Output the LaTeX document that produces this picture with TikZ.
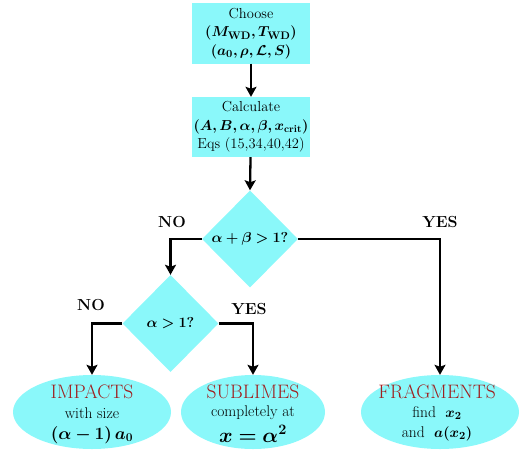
\documentclass[tikz,border=0pt]{standalone}
\usepackage{amsmath}
\usepackage{bm}
\usepackage{fontspec}
\usetikzlibrary{shapes.geometric,arrows.meta}
\definecolor{boxcyan}{RGB}{138,248,250}
\definecolor{darkred}{RGB}{160,30,30}
\begin{document}
\begin{tikzpicture}[x=1pt,y=-1pt,
  procbox/.style={fill=boxcyan,draw=none,minimum width=118pt,minimum height=60pt,inner sep=0pt,align=center,font=\fontsize{14.5}{18.5}\selectfont},
  decide/.style={diamond,fill=boxcyan,draw=none,minimum width=96pt,minimum height=97pt,inner sep=0pt},
  dtext/.style={inner sep=0pt,font=\fontsize{15.5}{17}\selectfont},
  outcome/.style={ellipse,fill=boxcyan,draw=none,minimum width=158pt,minimum height=74pt,inner sep=0pt},
  otitle/.style={inner sep=0pt,text=darkred,font=\fontsize{19.5}{21}\selectfont},
  oline/.style={inner sep=0pt,font=\fontsize{15.5}{17}\selectfont},
  omath/.style={inner sep=0pt,font=\fontsize{18}{20}\selectfont},
  conn/.style={line width=2.3pt,-{Stealth[length=10pt,width=11pt,inset=2pt]}},
  lbl/.style={font=\fontsize{16}{18}\selectfont\bfseries}
]
\useasboundingbox (0,0) rectangle (524,452);
\node[procbox] (choose) at (251,33.5) {Choose\\ {\fontsize{15}{18.5}\selectfont$\bm{(M_{\mathbf{WD}},T_{\mathbf{WD}})}$}\\ {\fontsize{15}{18.5}\selectfont$\bm{(a_0,\rho,\mathcal{L},S)}$}};
\node[procbox] (calc) at (251,127) {Calculate\\ {\fontsize{14}{18.5}\selectfont$\bm{(A,B,\alpha,\beta,x_{\mathbf{crit}})}$}\\ Eqs (15,34,40,42)};
\node[decide] (d1) at (250,239) {};
\node[dtext] (d1t) at (d1) {$\bm{\alpha+\beta>1?}$};
\node[decide] (d2) at (170.5,323.5) {};
\node[dtext] (d2t) at (d2) {$\bm{\alpha>1?}$};
\node[outcome] (e1) at (92,412) {};
\node[otitle] (e1a) at (92,392) {IMPACTS};
\node[oline] (e1b) at (92,413) {with size};
\node[omath] (e1c) at (92,435) {$\bm{(\alpha-1)\,a_0}$};
\node[outcome,minimum width=144pt] (e2) at (253,412) {};
\node[otitle] (e2a) at (253,392) {SUBLIMES};
\node[oline] (e2b) at (253,413) {completely at};
\node[omath,font=\fontsize{20}{22}\selectfont] (e2c) at (253,434) {$\bm{x=\alpha^2}$};
\node[outcome] (e3) at (440,412) {};
\node[otitle] (e3a) at (437,392) {FRAGMENTS};
\node[oline] (e3b) at (437,413) {find\ \ $\bm{x_2}$};
\node[oline] (e3c) at (437,434) {and\ \ $\bm{a(x_2)}$};
\draw[conn] (choose) -- (calc);
\draw[conn] (calc) -- (d1.north);
\draw[conn] (d1.west) -| (d2.north);
\draw[conn] (d1.east) -| (e3.north);
\draw[conn] (d2.west) -| (e1.north);
\draw[conn] (d2.east) -| (e2.north);
\node[lbl] (no1) at (172,222) {NO};
\node[lbl] (yes1) at (440,222) {YES};
\node[lbl] (no2) at (91,305) {NO};
\node[lbl] (yes2) at (249,309) {YES};
\end{tikzpicture}
\end{document}
